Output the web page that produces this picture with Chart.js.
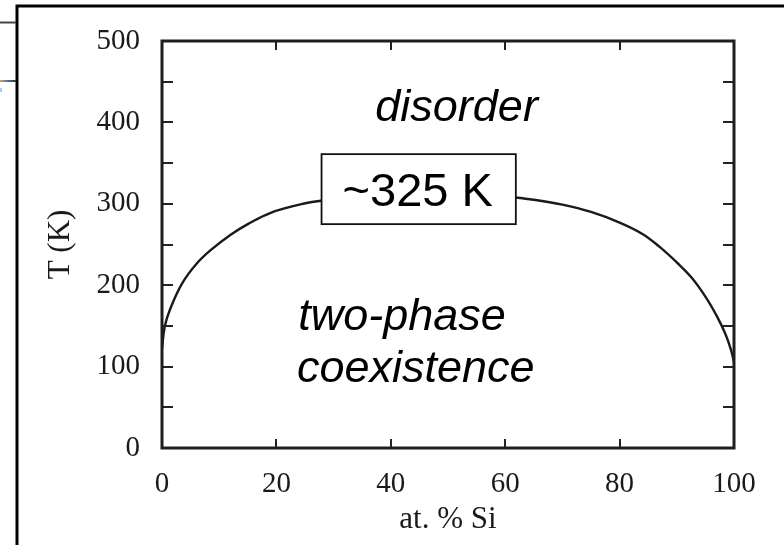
<!DOCTYPE html>
<html><head><meta charset="utf-8">
<script src="https://cdn.jsdelivr.net/npm/chart.js@4.4.0/dist/chart.umd.min.js"></script>
<style>html,body{margin:0;padding:0;background:#fff;overflow:hidden}#wrap{position:relative;width:784px;height:545px}</style>
</head><body><div id="wrap"><canvas id="c" width="784" height="545"></canvas></div>
<script>
// Data
const siPercent = [0, 0.5, 1.5, 3.5, 6, 8.5, 12, 15, 19, 24, 30, 35, 40, 45, 50, 55, 60, 65, 70, 75, 80, 84, 87, 90, 92.5, 95, 97, 98.5, 99.5, 100];
const tempK     = [122, 150, 172, 202, 226, 243, 262, 275, 289, 299, 306, 310, 312, 312.5, 312.5, 311.5, 309, 305, 299, 290, 277, 263, 247, 228, 210, 186, 162, 140, 120, 105];
const xTickValues = [0, 20, 40, 60, 80, 100];
const yTickValues = [0, 100, 200, 300, 400, 500];
const xTitle = 'at. % Si';
const yTitle = 'T (K)';
const labelTop = 'disorder';
const labelBox = '~325 K';
const labelBottom = ['two-phase', 'coexistence'];

const SANS = '"Liberation Sans", Arial, sans-serif';
const SERIF = '"Liberation Serif", "Times New Roman", serif';

const deco = {
  id: 'deco',
  afterDatasetsDraw(chart) {
    const {ctx, chartArea: a, scales: {x, y}} = chart;
    const line = (x1, y1, x2, y2) => { ctx.beginPath(); ctx.moveTo(x1, y1); ctx.lineTo(x2, y2); ctx.stroke(); };
    ctx.save();
    // inward ticks
    ctx.strokeStyle = '#222'; ctx.lineWidth = 2;
    for (let v = 0; v <= 500; v += 50) {
      const py = Math.round(y.getPixelForValue(v));
      line(a.left, py, a.left + 11, py);
      line(a.right, py, a.right - 11, py);
    }
    xTickValues.slice(1, -1).forEach(v => {
      const px = Math.round(x.getPixelForValue(v));
      line(px, a.bottom, px, a.bottom - 9);
      line(px, a.top, px, a.top + 9);
    });
    // plot frame
    ctx.lineWidth = 3; ctx.strokeStyle = '#1e1e1e';
    ctx.strokeRect(a.left, a.top, a.right - a.left, a.bottom - a.top);

    // annotations
    ctx.fillStyle = '#000';
    ctx.font = 'italic 45px ' + SANS;
    ctx.textAlign = 'center'; ctx.textBaseline = 'alphabetic';
    ctx.fillText(labelTop, x.getPixelForValue(51.5), y.getPixelForValue(402));

    // boxed label
    ctx.font = '47px ' + SANS;
    const cx = x.getPixelForValue(44.7), cy = y.getPixelForValue(318);
    const w = ctx.measureText(labelBox).width;
    const bx = cx - w / 2 - 21, bw = w + 44, by = cy - 35, bh = 70;
    ctx.fillStyle = '#fff'; ctx.fillRect(bx, by, bw, bh);
    ctx.strokeStyle = '#111'; ctx.lineWidth = 1.8; ctx.strokeRect(bx, by, bw, bh);
    ctx.fillStyle = '#000';
    ctx.fillText(labelBox, cx, cy + 0.358 * 47);

    ctx.font = 'italic 45px ' + SANS;
    ctx.textAlign = 'left';
    ctx.fillText(labelBottom[0], x.getPixelForValue(23.8), y.getPixelForValue(145));
    ctx.fillText(labelBottom[1], x.getPixelForValue(23.6), y.getPixelForValue(81));
    ctx.restore();
  },
  afterDraw(chart) {
    const ctx = chart.ctx;
    ctx.save();
    // slide frame
    ctx.strokeStyle = '#000'; ctx.lineWidth = 3;
    ctx.beginPath(); ctx.moveTo(17, 545); ctx.lineTo(17, 6); ctx.lineTo(784, 6); ctx.stroke();
    ctx.lineWidth = 2; ctx.strokeStyle = '#444';
    ctx.beginPath(); ctx.moveTo(0, 22.5); ctx.lineTo(16, 22.5); ctx.stroke();
    const g = ctx.createLinearGradient(0, 0, 16, 0);
    g.addColorStop(0, '#e0a060'); g.addColorStop(0.4, '#5577aa'); g.addColorStop(1, '#333');
    ctx.strokeStyle = g;
    ctx.beginPath(); ctx.moveTo(0, 81); ctx.lineTo(16, 81); ctx.stroke();
    ctx.fillStyle = '#9fd0f0'; ctx.fillRect(0, 88, 2, 4);
    ctx.restore();
  }
};

new Chart(document.getElementById('c'), {
  type: 'scatter',
  data: {
    datasets: [{
      data: siPercent.map((v, i) => ({x: v, y: tempK[i]})),
      showLine: true,
      borderColor: '#1a1a1a',
      borderWidth: 2.4,
      pointRadius: 0,
      tension: 0.4,
      fill: false
    }]
  },
  options: {
    responsive: false,
    animation: false,
    devicePixelRatio: 1,
    layout: {padding: {left: 0, top: 41, right: 50, bottom: 0}},
    plugins: {legend: {display: false}, tooltip: {enabled: false}},
    scales: {
      x: {
        type: 'linear', min: 0, max: 100,
        afterBuildTicks: s => { s.ticks = xTickValues.map(v => ({value: v})); },
        afterFit: s => { s.height = 97; },
        grid: {display: false, drawTicks: false},
        border: {display: false},
        ticks: {font: {family: SERIF, size: 29}, color: '#1a1a1a', padding: 19, maxRotation: 0},
        title: {display: true, text: xTitle, font: {family: SERIF, size: 31}, color: '#1a1a1a', padding: {top: 0, bottom: 7}}
      },
      y: {
        type: 'linear', min: 0, max: 500,
        afterBuildTicks: s => { s.ticks = yTickValues.map(v => ({value: v})); },
        afterFit: s => { s.width = 162; },
        grid: {display: false, drawTicks: false},
        border: {display: false},
        ticks: {font: {family: SERIF, size: 29}, color: '#1a1a1a', padding: 22},
        title: {display: true, text: yTitle, font: {family: SERIF, size: 31}, color: '#1a1a1a', padding: {top: 42, bottom: 0}}
      }
    }
  },
  plugins: [deco]
});
</script>
</body></html>
